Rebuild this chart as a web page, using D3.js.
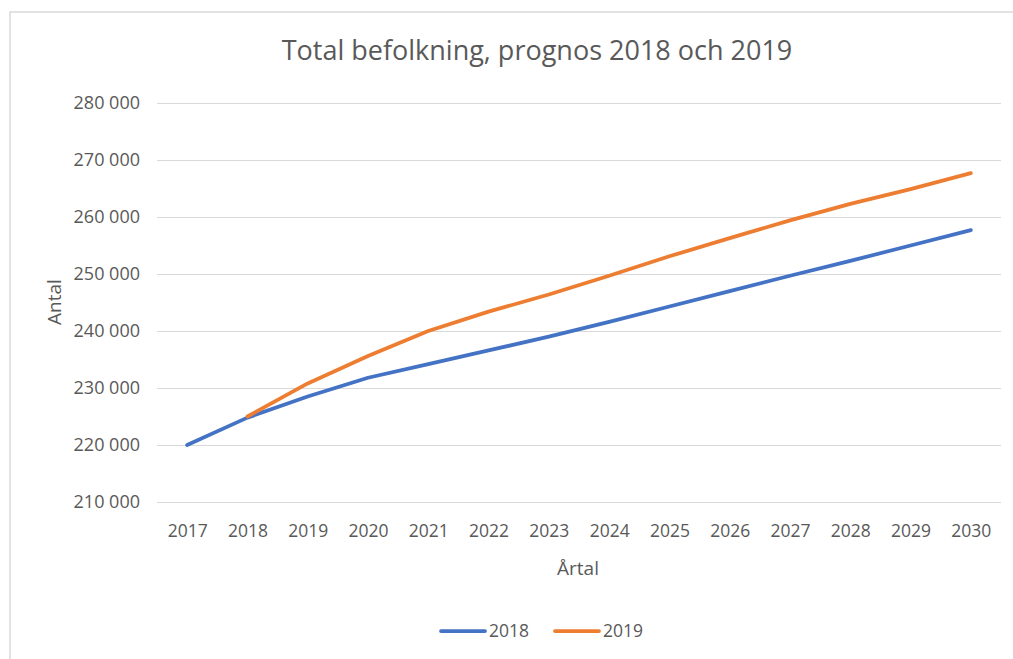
<!DOCTYPE html>
<html>
<head>
<meta charset="utf-8">
<script src="https://cdn.jsdelivr.net/npm/d3@7"></script>
<style>
  body { margin: 0; background: #fff; }
  text { font-family: "Open Sans", "Noto Sans", sans-serif; fill: #595959; }
</style>
</head>
<body>
<div id="chart"></div>
<script>
const years = [2017, 2018, 2019, 2020, 2021, 2022, 2023, 2024, 2025, 2026, 2027, 2028, 2029, 2030];
const prognos2018 = [220000, 224800, 228500, 231800, 234200, 236600, 239000, 241600, 244300, 247000, 249700, 252300, 255000, 257700];
// 2019 års prognos börjar 2018
const prognos2019 = [null, 225000, 230800, 235600, 240000, 243400, 246400, 249700, 253100, 256300, 259400, 262300, 264900, 267700];
const yTicks = [210000, 220000, 230000, 240000, 250000, 260000, 270000, 280000];

const series = [
  { name: "2018", values: prognos2018, color: "#4472C4" },
  { name: "2019", values: prognos2019, color: "#ED7D31" }
];

const width = 1013, height = 659;
const margin = { top: 103, right: 12, bottom: 157, left: 157 };

const svg = d3.select("#chart")
  .append("svg")
  .attr("width", width)
  .attr("height", height);

// chart frame
svg.append("rect")
  .attr("x", 10).attr("y", 12)
  .attr("width", width + 20).attr("height", height + 20)
  .attr("fill", "none")
  .attr("stroke", "#D9D9D9")
  .attr("stroke-width", 1.5);

const x = d3.scalePoint()
  .domain(years)
  .range([margin.left, width - margin.right])
  .padding(0.5);

const y = d3.scaleLinear()
  .domain([210000, 280000])
  .range([height - margin.bottom, margin.top]);

const fmt = d => d3.format(",")(d).replace(/,/g, " ");

// gridlines + y labels
const yAxis = d3.axisLeft(y)
  .tickValues(yTicks)
  .tickSize(-(width - margin.left - margin.right))
  .tickPadding(17)
  .tickFormat(fmt);

svg.append("g")
  .attr("transform", `translate(${margin.left},0)`)
  .call(yAxis)
  .call(g => g.select(".domain").remove())
  .call(g => g.selectAll(".tick line").attr("stroke", "#D9D9D9").attr("stroke-width", 1))
  .call(g => g.selectAll(".tick text")
    .attr("font-size", 18)
    .attr("fill", "#595959")
    .attr("font-family", "'Open Sans', sans-serif"));

// x labels
const xAxis = d3.axisBottom(x).tickSize(0).tickPadding(23);

svg.append("g")
  .attr("transform", `translate(0,${height - margin.bottom})`)
  .call(xAxis)
  .call(g => g.select(".domain").remove())
  .call(g => g.selectAll(".tick text")
    .attr("font-size", 17.5)
    .attr("fill", "#595959")
    .attr("font-family", "'Open Sans', sans-serif"));

// lines
const line = d3.line()
  .defined(d => d[1] != null)
  .x(d => x(d[0]))
  .y(d => y(d[1]));

series.forEach(s => {
  svg.append("path")
    .datum(years.map((yr, i) => [yr, s.values[i]]))
    .attr("fill", "none")
    .attr("stroke", s.color)
    .attr("stroke-width", 3.75)
    .attr("stroke-linecap", "round")
    .attr("stroke-linejoin", "round")
    .attr("d", line);
});

// title
svg.append("text")
  .attr("x", 537).attr("y", 60)
  .attr("text-anchor", "middle")
  .attr("font-size", 27)
  .attr("font-weight", 400)
  .text("Total befolkning, prognos 2018 och 2019");

// axis titles
svg.append("text")
  .attr("transform", "translate(61,302) rotate(-90)")
  .attr("text-anchor", "middle")
  .attr("font-size", 19)
  .text("Antal");

svg.append("text")
  .attr("x", 578).attr("y", 575)
  .attr("text-anchor", "middle")
  .attr("font-size", 19)
  .text("Årtal");

// legend
const legend = svg.append("g").attr("transform", "translate(441,631)");
series.forEach((s, i) => {
  const g = legend.append("g").attr("transform", `translate(${i * 114},0)`);
  g.append("line")
    .attr("x1", 0).attr("x2", 44)
    .attr("stroke", s.color)
    .attr("stroke-width", 3.75)
    .attr("stroke-linecap", "round");
  g.append("text")
    .attr("x", 48).attr("y", 6)
    .attr("font-size", 17.5)
    .text(s.name);
});
</script>
</body>
</html>
